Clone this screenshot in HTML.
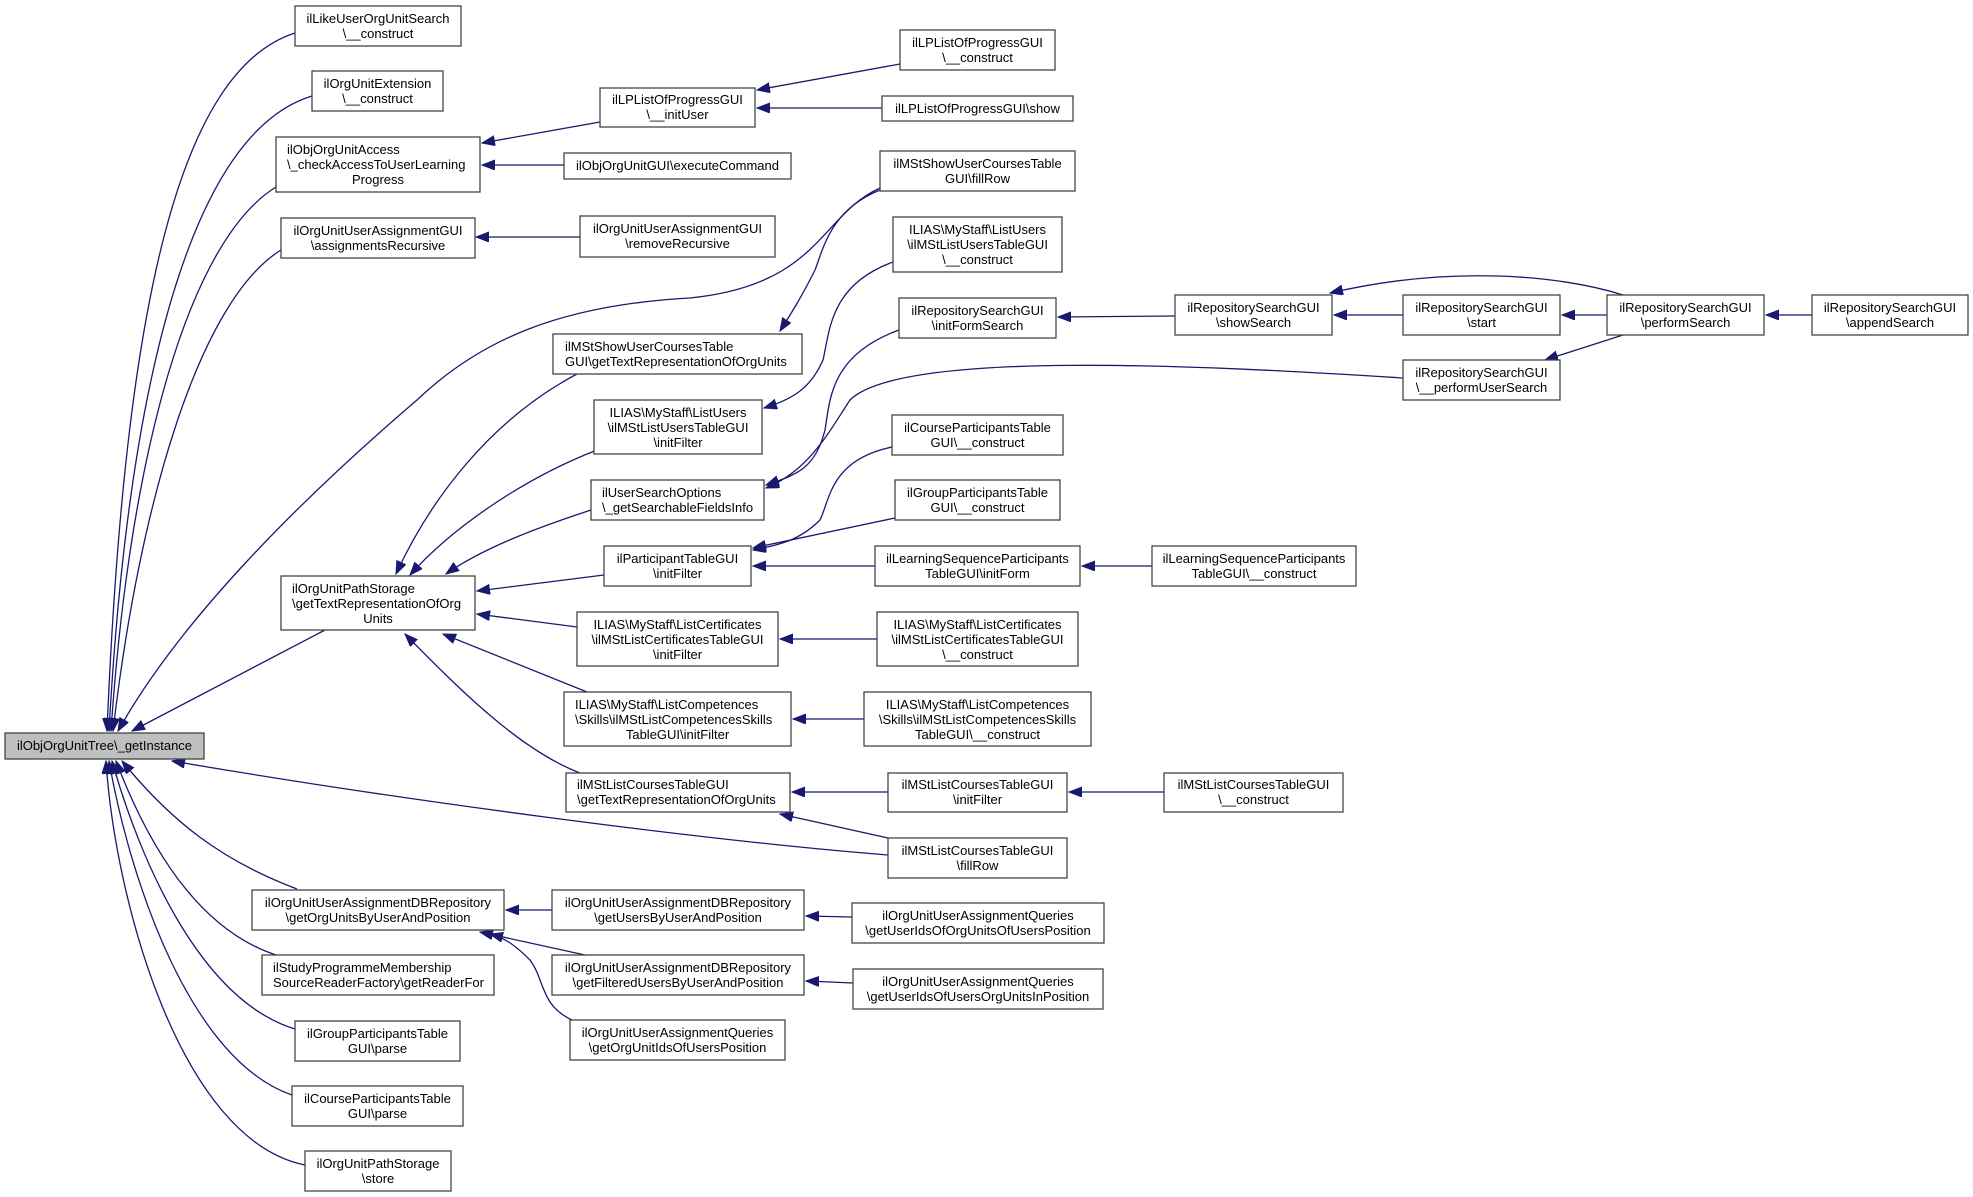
<!DOCTYPE html>
<html><head><meta charset="utf-8"><style>
html,body{margin:0;padding:0;background:#fff;}
svg{display:block;}
text{font-family:"Liberation Sans",Arial,sans-serif;font-size:13px;fill:#000;}
.b{fill:#fff;stroke:#444;stroke-width:1.3;}
.e{fill:none;stroke:#191970;stroke-width:1.3;}
</style></head><body>
<svg width="1973" height="1197" viewBox="0 0 1973 1197" xmlns="http://www.w3.org/2000/svg">
<defs>
<marker id="a" markerUnits="userSpaceOnUse" markerWidth="14" markerHeight="12" refX="13" refY="5" orient="auto">
<path d="M0,0 L13,5 L0,10 z" fill="#191970" stroke="#191970"/>
</marker>
</defs>
<g class="e" marker-end="url(#a)">
<!-- to tree top -->
<path d="M295,33 C180,70 125,300 107,731"/>
<path d="M312,96 C200,130 130,350 109,731"/>
<path d="M276,187 C190,240 130,450 111,731"/>
<path d="M281,250 C200,300 140,500 113,731"/>
<path d="M880,188 C820,215 820,285 690,298 C560,305 480,340 417,400 C300,500 180,620 118,731"/>
<path d="M325,630 L132,731"/>
<!-- to tree bottom -->
<path d="M888,855 C700,840 400,800 172,761"/>
<path d="M297,889 C220,860 170,820 122,761"/>
<path d="M276,955 C200,930 150,850 116,761"/>
<path d="M295,1029 C200,1000 140,860 112,761"/>
<path d="M292,1095 C190,1060 130,880 109,761"/>
<path d="M305,1165 C180,1140 115,900 106,761"/>
<!-- to path storage -->
<path d="M577,374 C490,420 430,500 396,574"/>
<path d="M597,450 C520,480 450,530 410,575"/>
<path d="M591,510 C530,530 480,550 446,574"/>
<path d="M604,575 L477,591"/>
<path d="M577,627 L477,614"/>
<path d="M587,692 L443,634"/>
<path d="M580,773 C520,750 460,690 405,634"/>
<!-- upper area -->
<path d="M600,122 L482,143"/>
<path d="M564,165 L482,165"/>
<path d="M580,237 L476,237"/>
<path d="M900,64 L757,90"/>
<path d="M882,108 L757,108"/>
<path d="M880,190 C830,210 823,250 815,270 C800,300 790,315 780,331"/>
<path d="M893,262 C830,285 830,330 823,360 C810,390 790,400 764,408"/>
<path d="M899,330 C830,355 830,400 825,430 C815,470 795,475 766,485"/>
<path d="M1403,378 C1200,365 900,350 850,400 C830,430 810,470 766,488"/>
<path d="M892,447 C830,460 830,500 820,520 C800,540 780,545 753,550"/>
<path d="M895,518 L753,548"/>
<path d="M875,566 L753,566"/>
<path d="M1152,566 L1082,566"/>
<path d="M877,639 L780,639"/>
<path d="M864,719 L793,719"/>
<path d="M888,792 L792,792"/>
<path d="M1164,792 L1069,792"/>
<path d="M888,838 L780,814"/>
<!-- DB repo -->
<path d="M552,910 L506,910"/>
<path d="M585,955 L480,932"/>
<path d="M572,1020 C540,1005 545,980 530,960 C515,945 505,938 490,934"/>
<path d="M852,917 L806,916"/>
<path d="M853,983 L806,981"/>
<!-- repository search -->
<path d="M1175,316 L1058,317"/>
<path d="M1403,315 L1334,315"/>
<path d="M1607,315 L1562,315"/>
<path d="M1623,295 C1560,275 1450,265 1330,293"/>
<path d="M1623,335 L1545,360"/>
<path d="M1812,315 L1766,315"/>
</g>
<g>
<rect class="b" x="5" y="733" width="199" height="26" style="fill:#bfbfbf"/>
<text x="104.5" y="750" text-anchor="middle">ilObjOrgUnitTree\_getInstance</text>

<rect class="b" x="295" y="6" width="166" height="40"/>
<text x="378" y="23" text-anchor="middle">ilLikeUserOrgUnitSearch</text><text x="378" y="38" text-anchor="middle">\__construct</text>
<rect class="b" x="312" y="71" width="131" height="40"/>
<text x="377.5" y="88" text-anchor="middle">ilOrgUnitExtension</text><text x="377.5" y="103" text-anchor="middle">\__construct</text>
<rect class="b" x="276" y="137" width="204" height="55"/>
<text x="287" y="154">ilObjOrgUnitAccess</text><text x="287" y="169">\_checkAccessToUserLearning</text><text x="378" y="184" text-anchor="middle">Progress</text>
<rect class="b" x="281" y="218" width="194" height="40"/>
<text x="378" y="235" text-anchor="middle">ilOrgUnitUserAssignmentGUI</text><text x="378" y="250" text-anchor="middle">\assignmentsRecursive</text>
<rect class="b" x="281" y="576" width="194" height="54"/>
<text x="292" y="593">ilOrgUnitPathStorage</text><text x="292" y="608">\getTextRepresentationOfOrg</text><text x="378" y="623" text-anchor="middle">Units</text>
<rect class="b" x="252" y="890" width="252" height="40"/>
<text x="378" y="907" text-anchor="middle">ilOrgUnitUserAssignmentDBRepository</text><text x="378" y="922" text-anchor="middle">\getOrgUnitsByUserAndPosition</text>
<rect class="b" x="262" y="955" width="232" height="40"/>
<text x="273" y="972">ilStudyProgrammeMembership</text><text x="273" y="987">SourceReaderFactory\getReaderFor</text>
<rect class="b" x="295" y="1021" width="165" height="40"/>
<text x="377.5" y="1038" text-anchor="middle">ilGroupParticipantsTable</text><text x="377.5" y="1053" text-anchor="middle">GUI\parse</text>
<rect class="b" x="292" y="1086" width="171" height="40"/>
<text x="377.5" y="1103" text-anchor="middle">ilCourseParticipantsTable</text><text x="377.5" y="1118" text-anchor="middle">GUI\parse</text>
<rect class="b" x="305" y="1151" width="146" height="40"/>
<text x="378" y="1168" text-anchor="middle">ilOrgUnitPathStorage</text><text x="378" y="1183" text-anchor="middle">\store</text>

<rect class="b" x="600" y="88" width="155" height="39"/>
<text x="677.5" y="104" text-anchor="middle">ilLPListOfProgressGUI</text><text x="677.5" y="119" text-anchor="middle">\__initUser</text>
<rect class="b" x="564" y="153" width="227" height="26"/>
<text x="677.5" y="170" text-anchor="middle">ilObjOrgUnitGUI\executeCommand</text>
<rect class="b" x="580" y="216" width="195" height="41"/>
<text x="677.5" y="233" text-anchor="middle">ilOrgUnitUserAssignmentGUI</text><text x="677.5" y="248" text-anchor="middle">\removeRecursive</text>
<rect class="b" x="553" y="334" width="249" height="40"/>
<text x="565" y="351">ilMStShowUserCoursesTable</text><text x="565" y="366">GUI\getTextRepresentationOfOrgUnits</text>
<rect class="b" x="594" y="400" width="168" height="54"/>
<text x="678" y="417" text-anchor="middle">ILIAS\MyStaff\ListUsers</text><text x="678" y="432" text-anchor="middle">\ilMStListUsersTableGUI</text><text x="678" y="447" text-anchor="middle">\initFilter</text>
<rect class="b" x="591" y="480" width="173" height="40"/>
<text x="602" y="497">ilUserSearchOptions</text><text x="602" y="512">\_getSearchableFieldsInfo</text>
<rect class="b" x="604" y="546" width="147" height="40"/>
<text x="677.5" y="563" text-anchor="middle">ilParticipantTableGUI</text><text x="677.5" y="578" text-anchor="middle">\initFilter</text>
<rect class="b" x="577" y="612" width="201" height="54"/>
<text x="677.5" y="629" text-anchor="middle">ILIAS\MyStaff\ListCertificates</text><text x="677.5" y="644" text-anchor="middle">\ilMStListCertificatesTableGUI</text><text x="677.5" y="659" text-anchor="middle">\initFilter</text>
<rect class="b" x="564" y="692" width="227" height="54"/>
<text x="575" y="709">ILIAS\MyStaff\ListCompetences</text><text x="575" y="724">\Skills\ilMStListCompetencesSkills</text><text x="677.5" y="739" text-anchor="middle">TableGUI\initFilter</text>
<rect class="b" x="566" y="773" width="224" height="39"/>
<text x="577" y="789">ilMStListCoursesTableGUI</text><text x="577" y="804">\getTextRepresentationOfOrgUnits</text>
<rect class="b" x="552" y="890" width="252" height="40"/>
<text x="678" y="907" text-anchor="middle">ilOrgUnitUserAssignmentDBRepository</text><text x="678" y="922" text-anchor="middle">\getUsersByUserAndPosition</text>
<rect class="b" x="552" y="955" width="252" height="40"/>
<text x="678" y="972" text-anchor="middle">ilOrgUnitUserAssignmentDBRepository</text><text x="678" y="987" text-anchor="middle">\getFilteredUsersByUserAndPosition</text>
<rect class="b" x="570" y="1020" width="215" height="40"/>
<text x="677.5" y="1037" text-anchor="middle">ilOrgUnitUserAssignmentQueries</text><text x="677.5" y="1052" text-anchor="middle">\getOrgUnitIdsOfUsersPosition</text>

<rect class="b" x="900" y="30" width="155" height="40"/>
<text x="977.5" y="47" text-anchor="middle">ilLPListOfProgressGUI</text><text x="977.5" y="62" text-anchor="middle">\__construct</text>
<rect class="b" x="882" y="96" width="191" height="25"/>
<text x="977.5" y="113" text-anchor="middle">ilLPListOfProgressGUI\show</text>
<rect class="b" x="880" y="151" width="195" height="40"/>
<text x="977.5" y="168" text-anchor="middle">ilMStShowUserCoursesTable</text><text x="977.5" y="183" text-anchor="middle">GUI\fillRow</text>
<rect class="b" x="893" y="217" width="169" height="55"/>
<text x="977.5" y="234" text-anchor="middle">ILIAS\MyStaff\ListUsers</text><text x="977.5" y="249" text-anchor="middle">\ilMStListUsersTableGUI</text><text x="977.5" y="264" text-anchor="middle">\__construct</text>
<rect class="b" x="899" y="298" width="157" height="40"/>
<text x="977.5" y="315" text-anchor="middle">ilRepositorySearchGUI</text><text x="977.5" y="330" text-anchor="middle">\initFormSearch</text>
<rect class="b" x="892" y="415" width="171" height="40"/>
<text x="977.5" y="432" text-anchor="middle">ilCourseParticipantsTable</text><text x="977.5" y="447" text-anchor="middle">GUI\__construct</text>
<rect class="b" x="895" y="480" width="165" height="40"/>
<text x="977.5" y="497" text-anchor="middle">ilGroupParticipantsTable</text><text x="977.5" y="512" text-anchor="middle">GUI\__construct</text>
<rect class="b" x="875" y="546" width="205" height="40"/>
<text x="977.5" y="563" text-anchor="middle">ilLearningSequenceParticipants</text><text x="977.5" y="578" text-anchor="middle">TableGUI\initForm</text>
<rect class="b" x="877" y="612" width="201" height="54"/>
<text x="977.5" y="629" text-anchor="middle">ILIAS\MyStaff\ListCertificates</text><text x="977.5" y="644" text-anchor="middle">\ilMStListCertificatesTableGUI</text><text x="977.5" y="659" text-anchor="middle">\__construct</text>
<rect class="b" x="864" y="692" width="227" height="54"/>
<text x="977.5" y="709" text-anchor="middle">ILIAS\MyStaff\ListCompetences</text><text x="977.5" y="724" text-anchor="middle">\Skills\ilMStListCompetencesSkills</text><text x="977.5" y="739" text-anchor="middle">TableGUI\__construct</text>
<rect class="b" x="888" y="773" width="179" height="39"/>
<text x="977.5" y="789" text-anchor="middle">ilMStListCoursesTableGUI</text><text x="977.5" y="804" text-anchor="middle">\initFilter</text>
<rect class="b" x="888" y="838" width="179" height="40"/>
<text x="977.5" y="855" text-anchor="middle">ilMStListCoursesTableGUI</text><text x="977.5" y="870" text-anchor="middle">\fillRow</text>
<rect class="b" x="852" y="903" width="252" height="40"/>
<text x="978" y="920" text-anchor="middle">ilOrgUnitUserAssignmentQueries</text><text x="978" y="935" text-anchor="middle">\getUserIdsOfOrgUnitsOfUsersPosition</text>
<rect class="b" x="853" y="969" width="250" height="40"/>
<text x="978" y="986" text-anchor="middle">ilOrgUnitUserAssignmentQueries</text><text x="978" y="1001" text-anchor="middle">\getUserIdsOfUsersOrgUnitsInPosition</text>

<rect class="b" x="1175" y="295" width="157" height="40"/>
<text x="1253.5" y="312" text-anchor="middle">ilRepositorySearchGUI</text><text x="1253.5" y="327" text-anchor="middle">\showSearch</text>
<rect class="b" x="1152" y="546" width="204" height="40"/>
<text x="1254" y="563" text-anchor="middle">ilLearningSequenceParticipants</text><text x="1254" y="578" text-anchor="middle">TableGUI\__construct</text>
<rect class="b" x="1164" y="773" width="179" height="39"/>
<text x="1253.5" y="789" text-anchor="middle">ilMStListCoursesTableGUI</text><text x="1253.5" y="804" text-anchor="middle">\__construct</text>
<rect class="b" x="1403" y="295" width="157" height="40"/>
<text x="1481.5" y="312" text-anchor="middle">ilRepositorySearchGUI</text><text x="1481.5" y="327" text-anchor="middle">\start</text>
<rect class="b" x="1403" y="360" width="157" height="40"/>
<text x="1481.5" y="377" text-anchor="middle">ilRepositorySearchGUI</text><text x="1481.5" y="392" text-anchor="middle">\__performUserSearch</text>
<rect class="b" x="1607" y="295" width="157" height="40"/>
<text x="1685.5" y="312" text-anchor="middle">ilRepositorySearchGUI</text><text x="1685.5" y="327" text-anchor="middle">\performSearch</text>
<rect class="b" x="1812" y="295" width="156" height="40"/>
<text x="1890" y="312" text-anchor="middle">ilRepositorySearchGUI</text><text x="1890" y="327" text-anchor="middle">\appendSearch</text>
</g>
</svg>
</body></html>
